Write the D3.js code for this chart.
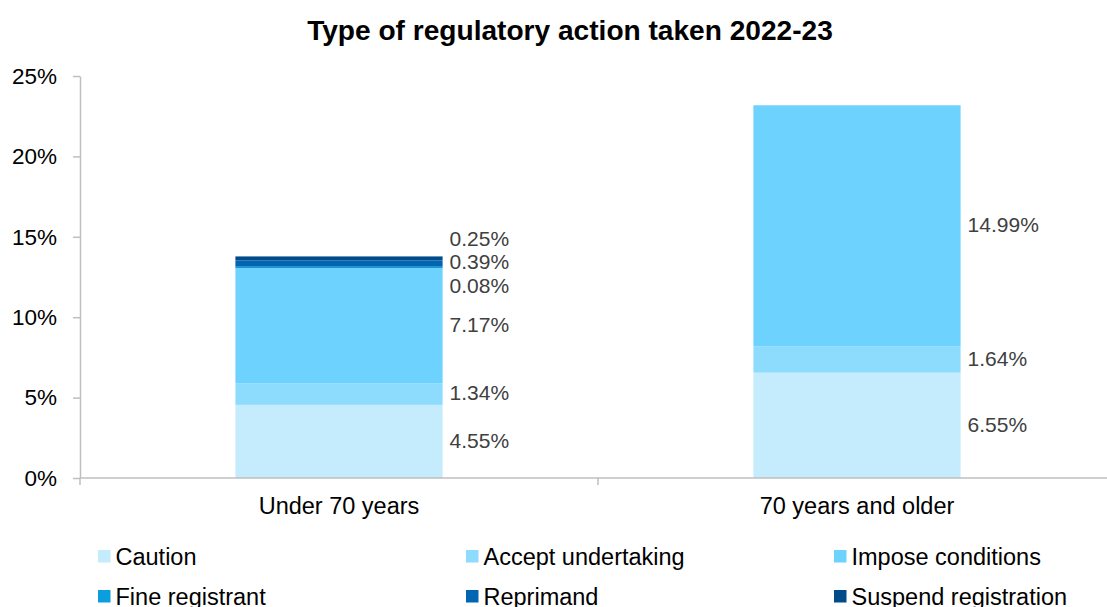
<!DOCTYPE html>
<html>
<head>
<meta charset="utf-8">
<script src="https://cdn.jsdelivr.net/npm/d3@7"></script>
<style>
  html, body { margin: 0; padding: 0; background: #fff; }
  svg { display: block; font-family: "Liberation Sans", Arial, sans-serif; }
</style>
</head>
<body>
<svg id="chart" width="1107" height="607"></svg>
<script>
// ---- data ----
const categories = ["Under 70 years", "70 years and older"];
const seriesNames = ["Caution", "Accept undertaking", "Impose conditions", "Fine registrant", "Reprimand", "Suspend registration"];
const caution = [4.55, 6.55];
const acceptUndertaking = [1.34, 1.64];
const imposeConditions = [7.17, 14.99];
const fineRegistrant = [0.08, 0];
const reprimand = [0.39, 0];
const suspendRegistration = [0.25, 0];
const yTicks = [0, 5, 10, 15, 20, 25];
const chartTitle = "Type of regulatory action taken 2022-23";

(function () {
const seriesValues = [caution, acceptUndertaking, imposeConditions, fineRegistrant, reprimand, suspendRegistration];
const colors = ["#C4ECFC", "#8DDCFE", "#6DD3FE", "#0A9EDE", "#0066B3", "#004C8A"];

const rows = categories.map((c, i) => {
  const r = { category: c };
  seriesNames.forEach((s, j) => r[s] = seriesValues[j][i]);
  return r;
});

const svg = d3.select("#chart");
const W = 1107;
const pLeft = 80, pRight = 1116, pTop = 76, pBottom = 478;

const x = d3.scaleBand().domain(categories).range([pLeft, pRight]).paddingInner(0.6).paddingOuter(0.3);
const y = d3.scaleLinear().domain([0, 25]).range([pBottom, pTop]);

const stacked = d3.stack().keys(seriesNames)(rows);

// title
svg.append("text")
  .attr("x", 570).attr("y", 40)
  .attr("text-anchor", "middle")
  .attr("font-size", 28.1).attr("font-weight", "bold").attr("fill", "#000")
  .text(chartTitle);

// bars
const g = svg.append("g");
stacked.forEach((layer, j) => {
  g.selectAll(null).data(layer.filter(d => d[1] - d[0] > 0)).enter().append("rect")
    .attr("x", d => x(d.data.category))
    .attr("width", x.bandwidth())
    .attr("y", d => y(d[1]))
    .attr("height", d => y(d[0]) - y(d[1]))
    .attr("fill", colors[j]);
});

// y axis
const yAxis = d3.axisLeft(y).tickValues(yTicks).tickFormat(d => d + "%").tickSize(7).tickSizeOuter(0);
const yg = svg.append("g").attr("transform", `translate(${pLeft},0)`).call(yAxis);
yg.select(".domain").attr("stroke", "#BFBFBF").attr("stroke-width", 1.5);
yg.selectAll(".tick line").attr("stroke", "#BFBFBF").attr("stroke-width", 1.5);
yg.selectAll(".tick text").attr("font-size", 22.5).attr("fill", "#000").attr("x", -23)
  .attr("font-family", "'Liberation Sans', Arial, sans-serif");

// x axis line & ticks
const xg = svg.append("g");
xg.append("line").attr("x1", pLeft).attr("x2", W).attr("y1", pBottom).attr("y2", pBottom)
  .attr("stroke", "#BFBFBF").attr("stroke-width", 1.5);
const step = x.step();
const boundaries = [pLeft, ...categories.slice(1).map(c => x(c) - (step - x.bandwidth()) / 2)];
xg.selectAll(null).data(boundaries).enter().append("line")
  .attr("x1", d => d).attr("x2", d => d).attr("y1", pBottom).attr("y2", pBottom + 7)
  .attr("stroke", "#BFBFBF").attr("stroke-width", 1.5);
xg.selectAll(null).data(categories).enter().append("text")
  .attr("x", d => x(d) + x.bandwidth() / 2).attr("y", 514)
  .attr("text-anchor", "middle").attr("font-size", 23.5).attr("fill", "#000")
  .text(d => d);

// data labels with simple collision spreading
const fmt = v => v.toFixed(2) + "%";
categories.forEach((c, i) => {
  let labels = [];
  stacked.forEach(layer => {
    const d = layer[i];
    if (d[1] - d[0] > 0) labels.push({ text: fmt(d[1] - d[0]), y: y((d[0] + d[1]) / 2) });
  });
  labels.sort((a, b) => b.y - a.y); // bottom to top
  const gap = 23.5;
  let clusters = labels.map(l => ({ items: [l], center: l.y }));
  let merged = true;
  while (merged) {
    merged = false;
    for (let k = 0; k < clusters.length - 1; k++) {
      const a = clusters[k], b = clusters[k + 1];
      const aTop = a.center - (a.items.length - 1) * gap / 2;
      const bBottom = b.center + (b.items.length - 1) * gap / 2;
      if (aTop - bBottom < gap) {
        const items = a.items.concat(b.items);
        const center = d3.mean(items, it => it.y);
        clusters.splice(k, 2, { items, center });
        merged = true;
        break;
      }
    }
  }
  clusters.forEach(cl => {
    const n = cl.items.length;
    cl.items.forEach((it, k) => { it.ly = cl.center + ((n - 1) / 2 - k) * gap; });
  });
  svg.append("g").selectAll(null).data(labels).enter().append("text")
    .attr("x", x(c) + x.bandwidth() + 7)
    .attr("y", d => d.ly)
    .attr("dy", "0.3em")
    .attr("font-size", 21).attr("fill", "#404040")
    .text(d => d.text);
});

// legend
const legendCols = [98, 466, 834];
const legendRows = [565, 605];
const lg = svg.append("g");
seriesNames.forEach((s, j) => {
  const cx = legendCols[j % 3], by = legendRows[Math.floor(j / 3)];
  lg.append("rect").attr("x", cx).attr("y", by - 15).attr("width", 12.5).attr("height", 12.5).attr("fill", colors[j]);
  lg.append("text").attr("x", cx + 17.5).attr("y", by).attr("font-size", 23.5).attr("fill", "#000").text(s);
});
})();
</script>
</body>
</html>
